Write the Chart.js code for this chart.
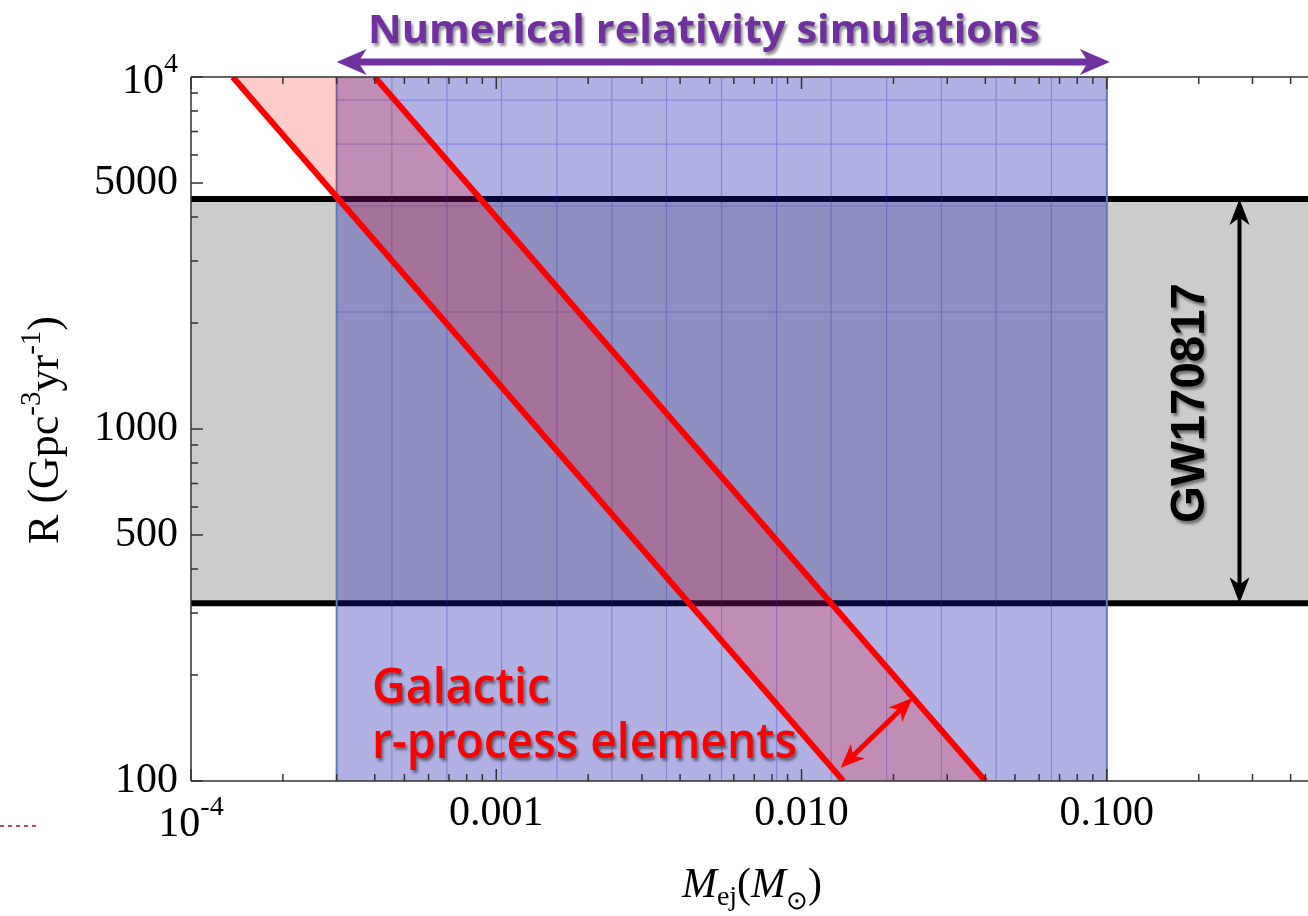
<!DOCTYPE html>
<html>
<head>
<meta charset="utf-8">
<script src="https://cdn.jsdelivr.net/npm/chart.js@4.4.1/dist/chart.umd.min.js"></script>
<style>
  html, body { margin: 0; padding: 0; background: #fff; }
  #wrap { position: relative; width: 1308px; height: 916px; }
</style>
</head>
<body>
<div id="wrap"><canvas id="c" width="1308" height="916"></canvas></div>
<script>
// ── Ejes (log-log) ──────────────────────────────────────────
const X_MIN = 1e-4, X_MAX = 0.456;
const Y_MIN = 100, Y_MAX = 10000;
const xMajor = [1e-4, 1e-3, 1e-2, 0.1];
const xMajorLabels = ['', '0.001', '0.010', '0.100'];   // 10^-4 se dibuja aparte
const xMinor = [2e-4, 3e-4, 4e-4, 5e-4, 6e-4, 7e-4, 8e-4, 9e-4,
                2e-3, 3e-3, 4e-3, 5e-3, 6e-3, 7e-3, 8e-3, 9e-3,
                0.02, 0.03, 0.04, 0.05, 0.06, 0.07, 0.08, 0.09,
                0.2, 0.3, 0.4];
const yMajor = [100, 500, 1000, 5000, 10000];
const yMajorLabels = ['100', '500', '1000', '5000', ''];  // 10^4 aparte
const yMinor = [200, 300, 400, 600, 700, 800, 900,
                2000, 3000, 4000, 6000, 7000, 8000, 9000];

// ── Datos ───────────────────────────────────────────────────
// banda GW170817 (tasa R)
const gwRate = [320, 4500];
// rango de simulaciones de relatividad numérica (M_ej)
const nrMass = [3e-4, 0.1];
const nrGridMass = [4.55e-4, 6.89e-4, 1.04e-3, 1.58e-3, 2.39e-3, 3.61e-3, 5.47e-3,
                    8.28e-3, 0.0125, 0.019, 0.0287, 0.0434, 0.0658];
const nrGridRate = [2150, 4300, 6450, 8600];
// banda r-process galáctica (dos rectas)
const rLowMass  = [1.37e-4, 0.0137];
const rHighMass = [4.0e-4, 0.040];
const rRate     = [10000, 100];
// flechas
const rArrowMass = [0.01343, 0.0231];
const rArrowRate = [109, 172];
const gwArrowMass = 0.272;

const SERIF = "'Liberation Serif', 'Times New Roman', serif";

// ── Datasets ────────────────────────────────────────────────
const pts = (xs, ys) => xs.map((x, i) => ({ x, y: ys[i] }));

const grayBand = pts([X_MIN, X_MAX, X_MAX, X_MIN, X_MIN],
                     [gwRate[0], gwRate[0], gwRate[1], gwRate[1], gwRate[0]]);
const blueRect = pts([nrMass[0], nrMass[0], nrMass[1], nrMass[1], nrMass[0]],
                     [Y_MIN, Y_MAX, Y_MAX, Y_MIN, Y_MIN]);
const blueGrid = [];
for (const m of nrGridMass) {
  blueGrid.push({ x: m, y: Y_MIN }, { x: m, y: Y_MAX }, { x: m, y: null });
}
for (const r of nrGridRate) {
  blueGrid.push({ x: nrMass[0], y: r }, { x: nrMass[1], y: r }, { x: nrMass[1], y: null });
}
const redFill = pts([rLowMass[0], rLowMass[1], rHighMass[1], rHighMass[0], rLowMass[0]],
                    [rRate[0], rRate[1], rRate[1], rRate[0], rRate[0]]);

function ds(label, data, extra) {
  return Object.assign({
    label, data, pointRadius: 0, borderWidth: 0, fill: false,
    borderColor: 'rgba(0,0,0,0)', backgroundColor: 'rgba(0,0,0,0)', tension: 0
  }, extra);
}

const datasets = [
  ds('gris', grayBand, { fill: 'shape', backgroundColor: '#cccccc', order: 10 }),
  ds('gwLow', pts([X_MIN, X_MAX], [gwRate[0], gwRate[0]]), { borderColor: '#000', borderWidth: 6, order: 9 }),
  ds('gwUp', pts([X_MIN, X_MAX], [gwRate[1], gwRate[1]]), { borderColor: '#000', borderWidth: 6, order: 9 }),
  ds('nr', blueRect, { fill: 'shape', backgroundColor: 'rgba(18,18,174,0.33)', order: 8 }),
  ds('nrL', pts([nrMass[0], nrMass[0]], [Y_MIN, Y_MAX]), { borderColor: 'rgb(92,124,186)', borderWidth: 2, order: 7 }),
  ds('nrR', pts([nrMass[1], nrMass[1]], [Y_MIN, Y_MAX]), { borderColor: 'rgb(92,124,186)', borderWidth: 2, order: 7 }),
  ds('nrGrid', blueGrid, { borderColor: 'rgba(40,40,200,0.3)', borderWidth: 1.2, spanGaps: false, order: 6 }),
  ds('rFill', redFill, { fill: 'shape', backgroundColor: 'rgba(255,0,0,0.2)', order: 5 }),
  ds('rLow', pts(rLowMass, rRate), { borderColor: '#ff0000', borderWidth: 6, order: 4 }),
  ds('rHigh', pts(rHighMass, rRate), { borderColor: '#ff0000', borderWidth: 6, order: 4 })
];

// ── Utilidades de dibujo ────────────────────────────────────
function head(ctx, tx, ty, ang, len, half) {
  const c = Math.cos(ang), s = Math.sin(ang);
  const bx = tx - c * len, by = ty - s * len;
  const nx = -s, ny = c;
  ctx.beginPath();
  ctx.moveTo(tx, ty);
  ctx.lineTo(bx + nx * half, by + ny * half);
  ctx.lineTo(tx - c * len * 0.72, ty - s * len * 0.72);
  ctx.lineTo(bx - nx * half, by - ny * half);
  ctx.closePath();
  ctx.fill();
}
function arrow2(ctx, x1, y1, x2, y2, w, len, half, color) {
  const ang = Math.atan2(y2 - y1, x2 - x1);
  const c = Math.cos(ang), s = Math.sin(ang);
  ctx.save();
  ctx.strokeStyle = color; ctx.fillStyle = color; ctx.lineWidth = w;
  ctx.beginPath();
  ctx.moveTo(x1 + c * len * 0.7, y1 + s * len * 0.7);
  ctx.lineTo(x2 - c * len * 0.7, y2 - s * len * 0.7);
  ctx.stroke();
  head(ctx, x2, y2, ang, len, half);
  head(ctx, x1, y1, ang + Math.PI, len, half);
  ctx.restore();
}
function fitText(ctx, text, x, y, width) {
  const w = ctx.measureText(text).width;
  ctx.save();
  ctx.translate(x, y);
  ctx.scale(width / w, 1);
  ctx.fillText(text, 0, 0);
  ctx.restore();
}
function shadow(ctx) {
  ctx.shadowColor = 'rgba(0,0,0,0.45)';
  ctx.shadowOffsetX = 2; ctx.shadowOffsetY = 3; ctx.shadowBlur = 3;
}
// texto con trozos [texto, tamaño, desplazamiento, cursiva]
function runs(ctx, parts) {
  let x = 0;
  for (const [t, size, dy, it] of parts) {
    ctx.font = (it ? 'italic ' : '') + size + 'px ' + SERIF;
    ctx.fillText(t, x, dy);
    x += ctx.measureText(t).width;
  }
  return x;
}
function runsWidth(ctx, parts) {
  let w = 0;
  for (const [t, size, , it] of parts) {
    ctx.font = (it ? 'italic ' : '') + size + 'px ' + SERIF;
    w += ctx.measureText(t).width;
  }
  return w;
}

const decoPlugin = {
  id: 'deco',
  afterDraw(chart) {
    const { ctx, chartArea: a, scales: { x, y } } = chart;
    ctx.save();

    // marco y marcas hacia dentro
    ctx.strokeStyle = '#333'; ctx.lineWidth = 1.5;
    ctx.beginPath();
    ctx.moveTo(a.left, a.top); ctx.lineTo(a.right, a.top);
    ctx.moveTo(a.left, a.top); ctx.lineTo(a.left, a.bottom);
    ctx.moveTo(a.left, a.bottom); ctx.lineTo(a.right, a.bottom);
    ctx.stroke();
    ctx.beginPath();
    const tickX = (v, len) => {
      const px = x.getPixelForValue(v);
      ctx.moveTo(px, a.bottom); ctx.lineTo(px, a.bottom - len);
      ctx.moveTo(px, a.top); ctx.lineTo(px, a.top + len);
    };
    const tickY = (v, len) => {
      const py = y.getPixelForValue(v);
      ctx.moveTo(a.left, py); ctx.lineTo(a.left + len, py);
    };
    xMajor.forEach(v => tickX(v, 12));
    xMinor.forEach(v => tickX(v, 7));
    yMajor.forEach(v => tickY(v, 12));
    yMinor.forEach(v => tickY(v, 7));
    ctx.stroke();

    // etiquetas con exponente
    ctx.fillStyle = '#000';
    ctx.textBaseline = 'alphabetic';
    ctx.textAlign = 'left';
    const py4 = y.getPixelForValue(1e4);
    ctx.font = '28px ' + SERIF;
    const w4 = ctx.measureText('4').width;
    ctx.font = '42px ' + SERIF;
    const w10 = ctx.measureText('10').width;
    ctx.fillText('10', 178 - w4 - w10, py4 + 16);
    ctx.font = '28px ' + SERIF;
    ctx.fillText('4', 178 - w4, py4 - 5);

    const px4 = x.getPixelForValue(1e-4);
    ctx.font = '28px ' + SERIF;
    const wm4 = ctx.measureText('-4').width;
    const tot = w10 + wm4;
    ctx.font = '42px ' + SERIF;
    ctx.fillText('10', px4 - tot / 2, 836);
    ctx.font = '28px ' + SERIF;
    ctx.fillText('-4', px4 - tot / 2 + w10, 815);

    // título eje y
    const yParts = [['R (Gpc', 44, 0], ['-3', 29, -18], ['yr', 44, 0], ['-1', 29, -18], [')', 44, 0]];
    const yw = runsWidth(ctx, yParts);
    ctx.save();
    ctx.translate(58, 430 + yw / 2);
    ctx.rotate(-Math.PI / 2);
    runs(ctx, yParts);
    ctx.restore();

    // título eje x
    const xParts = [['M', 42, 0, true], ['ej', 28, 8], ['(', 42, 0], ['M', 42, 0, true], ['\u2299', 26, 12], [')', 42, 0]];
    const xw = runsWidth(ctx, xParts);
    ctx.save();
    ctx.translate(752 - xw / 2, 897);
    runs(ctx, xParts);
    ctx.restore();

    // flecha roja (ancho de la banda r-process)
    arrow2(ctx,
      x.getPixelForValue(rArrowMass[0]), y.getPixelForValue(rArrowRate[0]),
      x.getPixelForValue(rArrowMass[1]), y.getPixelForValue(rArrowRate[1]),
      5, 24, 10, '#ff0000');

    // flecha negra GW170817
    const gx = x.getPixelForValue(gwArrowMass);
    arrow2(ctx, gx, y.getPixelForValue(gwRate[1]), gx, y.getPixelForValue(gwRate[0]),
      4, 26, 10, '#000');

    // flecha morada NR
    arrow2(ctx, x.getPixelForValue(nrMass[0]), 62, x.getPixelForValue(nrMass[1]) + 3, 62,
      7, 30, 13, '#7030a0');

    // textos con sombra
    ctx.save();
    shadow(ctx);
    ctx.fillStyle = '#7030a0';
    ctx.font = "bold 40px 'Open Sans', sans-serif";
    fitText(ctx, 'Numerical relativity simulations', 368, 43, 672);

    ctx.fillStyle = '#ff0000';
    ctx.font = "600 48px 'Open Sans', sans-serif";
    fitText(ctx, 'Galactic', 372, 703, 178);
    fitText(ctx, 'r-process elements', 372, 758, 425);

    ctx.fillStyle = '#000';
    ctx.font = "bold 48px 'Liberation Sans', Arial, sans-serif";
    ctx.save();
    ctx.translate(1191, 403);
    ctx.rotate(-Math.PI / 2);
    ctx.textAlign = 'center';
    ctx.textBaseline = 'middle';
    const gw = ctx.measureText('GW170817').width;
    ctx.scale(240 / gw, 1);
    ctx.fillText('GW170817', 0, 0);
    ctx.restore();
    ctx.restore();

    // guiones de la diapositiva
    ctx.strokeStyle = '#8b2323';
    ctx.lineWidth = 1.5;
    ctx.setLineDash([4, 4]);
    ctx.beginPath();
    ctx.moveTo(0, 826); ctx.lineTo(40, 826);
    ctx.stroke();

    ctx.restore();
  }
};

new Chart(document.getElementById('c'), {
  type: 'line',
  data: { datasets },
  options: {
    responsive: false,
    devicePixelRatio: 1,
    animation: false,
    events: [],
    layout: { padding: { top: 77, right: 0, left: 0, bottom: 0 } },
    plugins: { legend: { display: false }, tooltip: { enabled: false } },
    scales: {
      x: {
        type: 'logarithmic', min: X_MIN, max: X_MAX,
        afterBuildTicks: (s) => { s.ticks = xMajor.map(v => ({ value: v })); },
        afterFit: (s) => { s.height = 135; },
        grid: { display: false, drawTicks: false },
        border: { display: false },
        ticks: {
          autoSkip: false, maxRotation: 0, padding: 8, color: '#000',
          font: { family: SERIF, size: 42 },
          callback: (v, i) => xMajorLabels[i]
        }
      },
      y: {
        type: 'logarithmic', min: Y_MIN, max: Y_MAX,
        afterBuildTicks: (s) => { s.ticks = yMajor.map(v => ({ value: v })); },
        afterFit: (s) => { s.width = 191; },
        grid: { display: false, drawTicks: false },
        border: { display: false },
        ticks: {
          autoSkip: false, padding: 13, color: '#000',
          font: { family: SERIF, size: 42 },
          callback: (v, i) => yMajorLabels[i]
        }
      }
    }
  },
  plugins: [decoPlugin]
});
</script>
</body>
</html>
